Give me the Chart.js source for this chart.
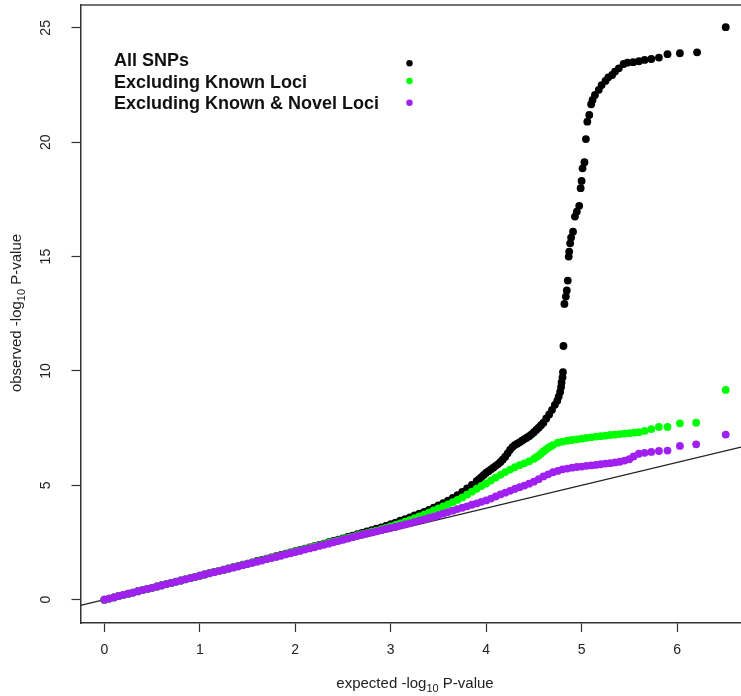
<!DOCTYPE html>
<html><head><meta charset="utf-8">
<script src="https://cdn.jsdelivr.net/npm/chart.js@4.4.0/dist/chart.umd.min.js"></script>
<style>html,body{margin:0;padding:0;background:#fff;overflow:hidden}#wrap{width:741px;height:696px;position:relative}</style>
</head><body><div id="wrap"><canvas id="c" width="741" height="696"></canvas></div>
<script>
// ---------- data ----------
const legendLabels = ['All SNPs', 'Excluding Known Loci', 'Excluding Known & Novel Loci'];
const seriesColors = ['#000000', '#00ff00', '#a020f0'];
const xTickValues = [0, 1, 2, 3, 4, 5, 6];
const yTickValues = [0, 5, 10, 15, 20, 25];
const xAxisTitle = ['expected -log', '10', ' P-value'];
const yAxisTitle = ['observed -log', '10', ' P-value'];
const refLineEnds = [-0.25, 6.67]; // y = x reference line

// dense shared low range (expected -log10 P)
const lowExpected = [0.00,0.05,0.10,0.15,0.20,0.25,0.30,0.35,0.40,0.45,0.50,0.55,0.60,0.65,0.70,0.75,0.80,0.85,0.90,0.95,1.00,1.05,1.10,1.15,1.20,1.25,1.30,1.35,1.40,1.45,1.50,1.55,1.60,1.65,1.70,1.75,1.80,1.85,1.90,1.95,2.00,2.05,2.10,2.15,2.20,2.25,2.30,2.35,2.40,2.45,2.50,2.55,2.60,2.65];
const allLowObs   = [0.00,0.05,0.10,0.16,0.21,0.26,0.31,0.37,0.42,0.47,0.52,0.58,0.63,0.68,0.73,0.79,0.84,0.89,0.94,1.00,1.05,1.10,1.16,1.21,1.26,1.31,1.37,1.42,1.47,1.53,1.58,1.63,1.69,1.74,1.79,1.85,1.90,1.96,2.01,2.07,2.12,2.18,2.23,2.29,2.34,2.40,2.45,2.51,2.57,2.62,2.68,2.74,2.80,2.86];
const knownLowObs = [0.00,0.05,0.10,0.16,0.21,0.26,0.31,0.36,0.42,0.47,0.52,0.57,0.62,0.68,0.73,0.78,0.83,0.89,0.94,0.99,1.05,1.10,1.15,1.20,1.25,1.30,1.35,1.41,1.46,1.52,1.57,1.62,1.67,1.72,1.78,1.83,1.88,1.94,1.99,2.04,2.10,2.15,2.21,2.26,2.32,2.37,2.43,2.48,2.54,2.59,2.65,2.70,2.76,2.82];
const novelLowObs = [0.00,0.05,0.10,0.16,0.21,0.26,0.31,0.36,0.42,0.47,0.52,0.57,0.62,0.68,0.73,0.78,0.83,0.89,0.94,0.99,1.05,1.10,1.15,1.20,1.25,1.30,1.35,1.40,1.45,1.51,1.56,1.61,1.66,1.71,1.77,1.82,1.87,1.92,1.98,2.03,2.08,2.13,2.19,2.24,2.29,2.35,2.40,2.45,2.51,2.56,2.62,2.67,2.73,2.79];

// All SNPs tail
const allTailExp = [2.70,2.75,2.80,2.85,2.90,2.95,3.00,3.05,3.10,3.15,3.20,3.25,3.30,3.35,3.40,3.45,3.50,3.55,3.60,3.65,3.70,3.75,3.80,3.85,3.90,3.925,3.95,3.975,4.00,4.025,4.05,4.075,4.10,4.125,4.15,4.175,4.20,4.225,4.25,4.275,4.30,4.325,4.35,4.375,4.40,4.425,4.45,4.475,4.50,4.525,4.55,4.575,4.60,4.63,4.66,4.69,4.72,4.745,4.76,4.775,4.785,4.79,4.80,4.805,4.81,4.82,4.835,4.845,4.855,4.865,4.87,4.88,4.89,4.91,4.93,4.95,4.975,4.99,5.00,5.01,5.03,5.045,5.06,5.08,5.10,5.115,5.14,5.18,5.21,5.25,5.28,5.32,5.35,5.39,5.44,5.48,5.54,5.60,5.66,5.73,5.81,5.90,6.03,6.21,6.51];
const allTailObs = [2.92,2.98,3.04,3.10,3.16,3.23,3.30,3.37,3.45,3.52,3.60,3.68,3.76,3.84,3.93,4.02,4.12,4.22,4.33,4.45,4.57,4.71,4.86,5.02,5.18,5.27,5.36,5.45,5.55,5.62,5.70,5.77,5.85,5.93,6.02,6.13,6.25,6.40,6.55,6.67,6.76,6.82,6.88,6.95,7.02,7.08,7.15,7.23,7.32,7.42,7.52,7.63,7.74,7.92,8.10,8.30,8.52,8.70,8.88,9.08,9.30,9.50,9.72,9.95,11.09,12.93,13.25,13.52,13.95,15.00,15.22,15.58,15.83,16.09,16.75,16.97,17.22,17.99,18.31,18.86,19.13,20.14,20.90,21.19,21.66,21.85,22.07,22.29,22.50,22.68,22.84,22.94,23.09,23.23,23.42,23.48,23.50,23.54,23.60,23.64,23.70,23.85,23.89,23.93,25.03];

// Excluding Known Loci tail
const knownTailExp = [2.70,2.75,2.80,2.85,2.90,2.95,3.00,3.05,3.10,3.15,3.20,3.25,3.30,3.35,3.40,3.45,3.50,3.55,3.60,3.65,3.70,3.75,3.80,3.85,3.90,3.95,4.00,4.05,4.10,4.15,4.20,4.25,4.30,4.35,4.40,4.45,4.50,4.525,4.55,4.575,4.60,4.625,4.65,4.675,4.70,4.75,4.80,4.85,4.90,4.95,5.00,5.05,5.10,5.15,5.20,5.25,5.30,5.35,5.40,5.45,5.50,5.55,5.60,5.66,5.73,5.81,5.90,6.03,6.20,6.51];
const knownTailObs = [2.86,2.91,2.97,3.02,3.08,3.14,3.20,3.27,3.34,3.41,3.48,3.56,3.64,3.72,3.81,3.90,3.99,4.08,4.17,4.26,4.36,4.47,4.59,4.72,4.85,4.97,5.08,5.21,5.34,5.46,5.58,5.69,5.79,5.88,5.96,6.05,6.16,6.23,6.30,6.39,6.48,6.56,6.64,6.70,6.76,6.86,6.91,6.95,6.98,7.01,7.04,7.07,7.10,7.13,7.15,7.17,7.20,7.22,7.24,7.26,7.28,7.30,7.32,7.38,7.46,7.55,7.55,7.71,7.74,9.17];

// Excluding Known & Novel Loci tail
const novelTailExp = [2.70,2.75,2.80,2.85,2.90,2.95,3.00,3.05,3.10,3.15,3.20,3.25,3.30,3.35,3.40,3.45,3.50,3.55,3.60,3.65,3.70,3.75,3.80,3.85,3.90,3.95,4.00,4.05,4.10,4.15,4.20,4.25,4.30,4.35,4.40,4.45,4.50,4.55,4.60,4.65,4.70,4.75,4.80,4.85,4.90,4.95,5.00,5.05,5.10,5.15,5.20,5.25,5.30,5.35,5.40,5.45,5.50,5.545,5.60,5.66,5.73,5.81,5.90,6.03,6.20,6.51];
const novelTailObs = [2.84,2.89,2.94,2.99,3.04,3.09,3.14,3.18,3.24,3.29,3.34,3.40,3.46,3.51,3.57,3.63,3.69,3.76,3.83,3.89,3.96,4.02,4.08,4.15,4.21,4.28,4.34,4.42,4.51,4.60,4.68,4.76,4.84,4.92,4.99,5.07,5.16,5.27,5.39,5.48,5.57,5.63,5.70,5.73,5.77,5.80,5.82,5.85,5.87,5.89,5.92,5.95,5.97,6.00,6.03,6.08,6.14,6.26,6.38,6.42,6.46,6.50,6.52,6.72,6.79,7.22];

// ---------- build ----------
function pts(xs, ys) { return xs.map((x, i) => ({ x: x, y: ys[i] })); }
const allPts   = pts(lowExpected.concat(allTailExp),   allLowObs.concat(allTailObs));
const knownPts = pts(lowExpected.concat(knownTailExp), knownLowObs.concat(knownTailObs));
const novelPts = pts(lowExpected.concat(novelTailExp), novelLowObs.concat(novelTailObs));

const FONT = '"Liberation Sans", Arial, Helvetica, sans-serif';

function drawSubTitle(ctx, parts, size) {
  const sub = Math.round(size * 0.75);
  ctx.font = size + 'px ' + FONT;
  const w0 = ctx.measureText(parts[0]).width;
  const w2 = ctx.measureText(parts[2]).width;
  ctx.font = sub + 'px ' + FONT;
  const w1 = ctx.measureText(parts[1]).width;
  let x = -(w0 + w1 + w2) / 2;
  ctx.textAlign = 'left';
  ctx.textBaseline = 'alphabetic';
  ctx.font = size + 'px ' + FONT;
  ctx.fillText(parts[0], x, 0);
  ctx.font = sub + 'px ' + FONT;
  ctx.fillText(parts[1], x + w0, 4);
  ctx.font = size + 'px ' + FONT;
  ctx.fillText(parts[2], x + w0 + w1, 0);
}

const decorPlugin = {
  id: 'decor',
  afterDraw(chart) {
    const ctx = chart.ctx, ca = chart.chartArea;
    ctx.save();
    // top frame line
    ctx.strokeStyle = '#444';
    ctx.lineWidth = 1.5;
    ctx.beginPath();
    ctx.moveTo(ca.left, ca.top);
    ctx.lineTo(ca.right, ca.top);
    ctx.stroke();
    // legend
    ctx.font = 'bold 18px ' + FONT;
    ctx.textAlign = 'left';
    ctx.textBaseline = 'alphabetic';
    const baselines = [66, 88, 109];
    const dotY = [63.3, 81, 102.7];
    legendLabels.forEach((t, i) => {
      ctx.fillStyle = '#111';
      ctx.fillText(t, 114, baselines[i]);
      ctx.fillStyle = seriesColors[i];
      ctx.beginPath();
      ctx.arc(409.5, dotY[i], 3.2, 0, Math.PI * 2);
      ctx.fill();
    });
    // axis titles
    ctx.fillStyle = '#222';
    ctx.save();
    ctx.translate(415, 688);
    drawSubTitle(ctx, xAxisTitle, 15);
    ctx.restore();
    ctx.save();
    ctx.translate(21, 313);
    ctx.rotate(-Math.PI / 2);
    drawSubTitle(ctx, yAxisTitle, 15);
    ctx.restore();
    ctx.restore();
  }
};

function zeroPad(s) { s.paddingTop = 0; s.paddingBottom = 0; s.paddingLeft = 0; s.paddingRight = 0; }

new Chart(document.getElementById('c'), {
  type: 'scatter',
  data: {
    datasets: [
      { type: 'line', label: 'y=x', data: refLineEnds.map(v => ({ x: v, y: v })),
        borderColor: '#222', borderWidth: 1.2, pointRadius: 0, fill: false, order: 4 },
      { label: legendLabels[0], data: allPts, backgroundColor: seriesColors[0], borderColor: seriesColors[0],
        pointRadius: 3.9, borderWidth: 0, order: 3 },
      { label: legendLabels[1], data: knownPts, backgroundColor: seriesColors[1], borderColor: seriesColors[1],
        pointRadius: 3.9, borderWidth: 0, order: 2 },
      { label: legendLabels[2], data: novelPts, backgroundColor: seriesColors[2], borderColor: seriesColors[2],
        pointRadius: 3.9, borderWidth: 0, order: 1 }
    ]
  },
  options: {
    responsive: false,
    animation: false,
    devicePixelRatio: 1,
    layout: { autoPadding: false, padding: { top: 5, right: 0, bottom: 0, left: 0 } },
    plugins: { legend: { display: false }, tooltip: { enabled: false } },
    events: [],
    scales: {
      x: {
        type: 'linear', position: 'bottom', min: -0.25, max: 6.67,
        afterFit: s => { s.height = 73; zeroPad(s); },
        afterBuildTicks: s => { s.ticks = xTickValues.map(v => ({ value: v })); },
        grid: { display: true, drawOnChartArea: false, drawTicks: true, tickLength: 9, tickColor: '#333', tickWidth: 1.2 },
        border: { display: true, color: '#333', width: 1.5 },
        ticks: { font: { family: FONT, size: 14 }, color: '#222', padding: 10, minRotation: 0, maxRotation: 0,
          callback: v => String(v) }
      },
      y: {
        type: 'linear', position: 'left', min: -1.02, max: 26.0,
        afterFit: s => { s.width = 80.5; zeroPad(s); },
        afterBuildTicks: s => { s.ticks = yTickValues.map(v => ({ value: v })); },
        grid: { display: true, drawOnChartArea: false, drawTicks: true, tickLength: 9, tickColor: '#333', tickWidth: 1.2 },
        border: { display: true, color: '#333', width: 1.5 },
        ticks: { font: { family: FONT, size: 14 }, color: '#222', padding: 18, minRotation: 90, maxRotation: 90,
          crossAlign: 'center', callback: v => String(v) }
      }
    }
  },
  plugins: [decorPlugin]
});
</script>
</body></html>
